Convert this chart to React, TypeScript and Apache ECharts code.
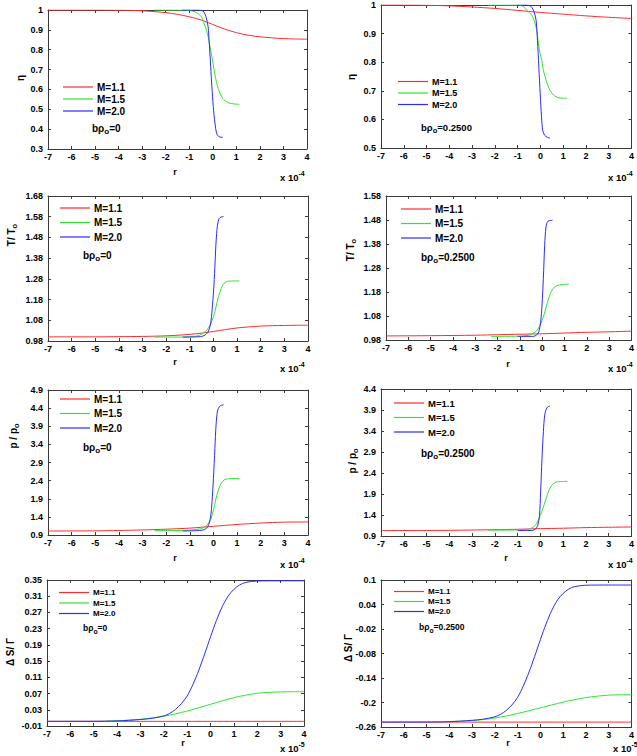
import React, { useEffect, useRef } from "react";
import * as echarts from "echarts";

// ---------- Data (x in units of 1e-4, bottom row 1e-5) ----------
const SERIES_NAMES = ["M=1.1", "M=1.5", "M=2.0"];
const X_TICK_MIN = -7;
const X_TICK_MAX = 4;

// Row 1 left: eta, b rho_o = 0
const ETA0_M11_X = [-7, -5, -4, -3.5, -3, -2.5, -2, -1.5, -1, -0.5, 0, 0.5, 1, 1.5, 2, 2.5, 3, 3.5, 4];
const ETA0_M11_Y = [1, 1, 0.999, 0.998, 0.996, 0.992, 0.987, 0.978, 0.966, 0.95, 0.927, 0.904, 0.886, 0.873, 0.865, 0.86, 0.856, 0.854, 0.853];
const ETA0_M15_X = [-2.5, -1.5, -1, -0.75, -0.5, -0.38, -0.23, -0.12, 0, 0.09, 0.23, 0.42, 0.66, 0.9, 1.13];
const ETA0_M15_Y = [1, 1, 0.998, 0.99, 0.968, 0.935, 0.882, 0.815, 0.74, 0.673, 0.605, 0.555, 0.533, 0.527, 0.525];
const ETA0_M20_X = [-1.3, -0.7, -0.47, -0.38, -0.29, -0.2, -0.15, -0.09, -0.04, 0.02, 0.09, 0.16, 0.26, 0.42];
const ETA0_M20_Y = [1, 1, 0.998, 0.99, 0.966, 0.916, 0.832, 0.715, 0.614, 0.513, 0.43, 0.379, 0.362, 0.359];

// Row 1 right: eta, b rho_o = 0.25
const ETA1_M11_X = [-7, -6, -5, -4, -3, -2, -1, 0, 1, 2, 3, 4];
const ETA1_M11_Y = [1, 1, 0.999, 0.997, 0.993, 0.988, 0.981, 0.974, 0.968, 0.962, 0.957, 0.953];
const ETA1_M15_X = [-2.3, -1.5, -1, -0.74, -0.6, -0.38, -0.28, -0.16, -0.09, -0.01, 0.06, 0.13, 0.25, 0.42, 0.64, 0.86, 1.18];
const ETA1_M15_Y = [1, 1, 1, 0.994, 0.982, 0.965, 0.947, 0.912, 0.866, 0.83, 0.807, 0.772, 0.737, 0.702, 0.681, 0.675, 0.674];
const ETA1_M20_X = [-1.03, -0.6, -0.45, -0.38, -0.28, -0.19, -0.13, -0.07, -0.01, 0.05, 0.1, 0.19, 0.31, 0.42];
const ETA1_M20_Y = [1, 1, 0.997, 0.992, 0.977, 0.947, 0.877, 0.784, 0.69, 0.609, 0.562, 0.544, 0.537, 0.535];

// Row 2 left: T/To, b rho_o = 0
const T0_M11_X = [-7, -5, -4, -3, -2, -1.5, -1, -0.5, 0, 0.5, 1, 1.5, 2, 2.5, 3, 3.5, 4];
const T0_M11_Y = [1.0, 1.0, 1.001, 1.002, 1.005, 1.008, 1.012, 1.018, 1.026, 1.035, 1.043, 1.048, 1.052, 1.054, 1.055, 1.056, 1.056];
const T0_M15_X = [-2.5, -1.5, -1, -0.7, -0.49, -0.35, -0.21, -0.11, 0, 0.11, 0.21, 0.33, 0.45, 0.64, 1.1];
const T0_M15_Y = [0.999, 0.999, 1.0, 1.004, 1.014, 1.025, 1.044, 1.065, 1.097, 1.145, 1.194, 1.234, 1.259, 1.269, 1.27];
const T0_M20_X = [-1.3, -0.56, -0.35, -0.21, -0.11, -0.04, 0.02, 0.07, 0.11, 0.17, 0.24, 0.33, 0.43];
const T0_M20_Y = [0.999, 1.001, 1.009, 1.028, 1.073, 1.153, 1.25, 1.362, 1.458, 1.539, 1.571, 1.579, 1.58];

// Row 2 right: T/To, b rho_o = 0.25
const T1_M11_X = [-7, -5, -3, -2, -1, 0, 1, 2, 3, 4];
const T1_M11_Y = [0.997, 0.998, 1.0, 1.002, 1.004, 1.006, 1.009, 1.012, 1.014, 1.017];
const T1_M15_X = [-2.3, -1, -0.55, -0.4, -0.25, -0.13, 0, 0.12, 0.22, 0.34, 0.49, 0.67, 0.9, 1.19];
const T1_M15_Y = [0.995, 0.996, 1.001, 1.008, 1.019, 1.035, 1.063, 1.098, 1.132, 1.167, 1.195, 1.207, 1.211, 1.213];
const T1_M20_X = [-1.1, -0.4, -0.25, -0.15, -0.07, -0.01, 0.05, 0.11, 0.17, 0.26, 0.46];
const T1_M20_Y = [0.995, 0.995, 1.001, 1.015, 1.056, 1.125, 1.236, 1.375, 1.451, 1.475, 1.479];

// Row 3 left: p/po, b rho_o = 0
const P0_M11_X = [-7, -5, -4, -3, -2, -1, 0, 1, 2, 3, 4];
const P0_M11_Y = [1.01, 1.015, 1.025, 1.04, 1.06, 1.09, 1.14, 1.19, 1.23, 1.255, 1.26];
const P0_M15_X = [-2.5, -1.5, -1, -0.56, -0.35, -0.21, -0.11, 0, 0.11, 0.21, 0.33, 0.45, 0.64, 1.1];
const P0_M15_Y = [1.02, 1.025, 1.035, 1.07, 1.13, 1.22, 1.34, 1.59, 1.91, 2.14, 2.33, 2.42, 2.45, 2.46];
const P0_M20_X = [-1.3, -0.49, -0.3, -0.2, -0.11, -0.06, 0, 0.06, 0.11, 0.17, 0.25, 0.34, 0.43];
const P0_M20_Y = [1.01, 1.03, 1.08, 1.19, 1.45, 1.82, 2.46, 3.29, 3.93, 4.32, 4.44, 4.48, 4.49];

// Row 3 right: p/po, b rho_o = 0.25
const P1_M11_X = [-7, -5, -4, -2, -1, 0, 1, 2, 3, 4];
const P1_M11_Y = [1.03, 1.032, 1.035, 1.05, 1.06, 1.075, 1.085, 1.1, 1.108, 1.115];
const P1_M15_X = [-2.3, -1, -0.6, -0.38, -0.23, -0.12, 0, 0.13, 0.25, 0.38, 0.54, 0.74, 1.18];
const P1_M15_Y = [1.04, 1.042, 1.05, 1.09, 1.15, 1.25, 1.39, 1.59, 1.79, 1.99, 2.13, 2.19, 2.2];
const P1_M20_X = [-1.0, -0.38, -0.23, -0.12, -0.04, 0.01, 0.07, 0.13, 0.19, 0.28, 0.42];
const P1_M20_Y = [1.03, 1.03, 1.06, 1.15, 1.39, 1.95, 2.75, 3.38, 3.78, 3.95, 4.0];

// Row 4 left: dS/Gamma, b rho_o = 0 (x in 1e-5)
const S0_M11_X = [-7, -3, 0, 4];
const S0_M11_Y = [0.0015, 0.0015, 0.0015, 0.0015];
const S0_M15_X = [-4.5, -4, -3.5, -3, -2.5, -2, -1.5, -1, -0.5, 0, 0.5, 1, 1.5, 2, 2.5, 3, 3.5, 4];
const S0_M15_Y = [0.002, 0.003, 0.0045, 0.0065, 0.0098, 0.014, 0.02, 0.027, 0.035, 0.0435, 0.052, 0.06, 0.066, 0.0707, 0.073, 0.074, 0.0745, 0.0745];
const S0_M20_X = [-7, -5, -4, -3, -2.5, -2, -1.75, -1.5, -1.25, -1, -0.75, -0.5, -0.25, 0, 0.25, 0.5, 0.75, 1, 1.25, 1.5, 2, 3, 4];
const S0_M20_Y = [0.0015, 0.0017, 0.0025, 0.006, 0.009, 0.015, 0.021, 0.031, 0.045, 0.064, 0.093, 0.128, 0.168, 0.21, 0.25, 0.284, 0.31, 0.327, 0.338, 0.344, 0.3475, 0.348, 0.348];

// Row 4 right: dS/Gamma, b rho_o = 0.25 (x in 1e-5)
const S1_M11_X = [-7, -3, 0, 4];
const S1_M11_Y = [-0.248, -0.248, -0.248, -0.248];
const S1_M15_X = [-4.2, -4, -3.5, -3, -2.5, -2, -1.5, -1, -0.5, 0, 0.5, 1, 1.5, 2, 2.5, 3, 3.5, 4];
const S1_M15_Y = [-0.247, -0.2465, -0.2457, -0.2445, -0.2417, -0.238, -0.233, -0.227, -0.22, -0.213, -0.206, -0.199, -0.193, -0.188, -0.1845, -0.182, -0.1812, -0.181];
const S1_M20_X = [-7, -5, -4, -3, -2.5, -2, -1.75, -1.5, -1.25, -1, -0.75, -0.5, -0.25, 0, 0.25, 0.5, 0.75, 1, 1.25, 1.5, 2, 3, 4];
const S1_M20_Y = [-0.248, -0.2478, -0.247, -0.2436, -0.2407, -0.2349, -0.2291, -0.2195, -0.2059, -0.1874, -0.1594, -0.1255, -0.0867, -0.046, -0.0073, 0.0256, 0.0509, 0.0672, 0.078, 0.0838, 0.0872, 0.0877, 0.0877];

// Y tick labels
const ETA0_TICKS = [0.3, 0.4, 0.5, 0.6, 0.7, 0.8, 0.9, 1];
const ETA1_TICKS = [0.5, 0.6, 0.7, 0.8, 0.9, 1];
const T0_TICKS = [0.98, 1.08, 1.18, 1.28, 1.38, 1.48, 1.58, 1.68];
const T1_TICKS = [0.98, 1.08, 1.18, 1.28, 1.38, 1.48, 1.58];
const P0_TICKS = [0.9, 1.4, 1.9, 2.4, 2.9, 3.4, 3.9, 4.4, 4.9];
const P1_TICKS = [0.9, 1.4, 1.9, 2.4, 2.9, 3.4, 3.9, 4.4];
const S0_TICKS = [-0.01, 0.03, 0.07, 0.11, 0.15, 0.19, 0.23, 0.27, 0.31, 0.35];
const S1_TICKS = [-0.26, -0.2, -0.14, -0.08, -0.02, 0.04, 0.1];

// ---------- Styling ----------
const COLORS = ["#ff2b2b", "#2ee62e", "#2b2bff"];
const FONT = "Liberation Sans, Arial, sans-serif";
const FRAME = "#3a3a3a";
const LEGEND_LINE_ICON = "path://M0,0H30V1.2H0Z";

type Panel = {
  grid: { left: number; top: number; width: number; height: number };
  ticks: number[];
  curves: [number[], number[]][];
  legend: { left: number; top: number; itemHeight: number; gap: number; fontSize: number };
  yLabel: { x: number; y: number; text: string };
  bLabel: { x: number; y: number; value: string; fontSize: number };
  rLabel?: { x: number; y: number };
  expLabel: { x: number; y: number; exp: string };
};

const PANELS: Panel[] = [
  {
    grid: { left: 48, top: 10, width: 259, height: 139 },
    ticks: ETA0_TICKS,
    curves: [[ETA0_M11_X, ETA0_M11_Y], [ETA0_M15_X, ETA0_M15_Y], [ETA0_M20_X, ETA0_M20_Y]],
    legend: { left: 63, top: 82, itemHeight: 10, gap: 2, fontSize: 10 },
    yLabel: { x: 20, y: 78, text: "{n|η}" },
    bLabel: { x: 92, y: 128, value: "0", fontSize: 10 },
    rLabel: { x: 175, y: 172 },
    expLabel: { x: 280, y: 177, exp: "-4" },
  },
  {
    grid: { left: 381, top: 5, width: 252, height: 143 },
    ticks: ETA1_TICKS,
    curves: [[ETA1_M11_X, ETA1_M11_Y], [ETA1_M15_X, ETA1_M15_Y], [ETA1_M20_X, ETA1_M20_Y]],
    legend: { left: 398, top: 77, itemHeight: 10, gap: 2.5, fontSize: 9 },
    yLabel: { x: 351, y: 77, text: "{n|η}" },
    bLabel: { x: 421, y: 127, value: "0.2500", fontSize: 9.5 },
    expLabel: { x: 608, y: 177, exp: "-4" },
  },
  {
    grid: { left: 48, top: 196, width: 260, height: 145 },
    ticks: T0_TICKS,
    curves: [[T0_M11_X, T0_M11_Y], [T0_M15_X, T0_M15_Y], [T0_M20_X, T0_M20_Y]],
    legend: { left: 60, top: 203, itemHeight: 10, gap: 4.5, fontSize: 10 },
    yLabel: { x: 11, y: 235, text: "{n|T/ T}{s|o}" },
    bLabel: { x: 83, y: 255, value: "0", fontSize: 10 },
    rLabel: { x: 175, y: 362 },
    expLabel: { x: 280, y: 368, exp: "-4" },
  },
  {
    grid: { left: 386, top: 196, width: 247, height: 144 },
    ticks: T1_TICKS,
    curves: [[T1_M11_X, T1_M11_Y], [T1_M15_X, T1_M15_Y], [T1_M20_X, T1_M20_Y]],
    legend: { left: 401, top: 204, itemHeight: 10, gap: 4.5, fontSize: 10 },
    yLabel: { x: 350, y: 250, text: "{n|T/ T}{s|o}" },
    bLabel: { x: 421, y: 257, value: "0.2500", fontSize: 10 },
    rLabel: { x: 508, y: 364 },
    expLabel: { x: 608, y: 368, exp: "-4" },
  },
  {
    grid: { left: 48, top: 390, width: 260, height: 145 },
    ticks: P0_TICKS,
    curves: [[P0_M11_X, P0_M11_Y], [P0_M15_X, P0_M15_Y], [P0_M20_X, P0_M20_Y]],
    legend: { left: 60, top: 394, itemHeight: 10, gap: 4.5, fontSize: 10 },
    yLabel: { x: 13, y: 436, text: "{n|p / p}{s|o}" },
    bLabel: { x: 83, y: 447, value: "0", fontSize: 10 },
    rLabel: { x: 175, y: 558 },
    expLabel: { x: 280, y: 564, exp: "-4" },
  },
  {
    grid: { left: 381, top: 389, width: 252, height: 147 },
    ticks: P1_TICKS,
    curves: [[P1_M11_X, P1_M11_Y], [P1_M15_X, P1_M15_Y], [P1_M20_X, P1_M20_Y]],
    legend: { left: 394, top: 398, itemHeight: 10, gap: 4.5, fontSize: 9.5 },
    yLabel: { x: 352, y: 461, text: "{n|p / p}{s|o}" },
    bLabel: { x: 421, y: 453, value: "0.2500", fontSize: 10 },
    rLabel: { x: 506, y: 558 },
    expLabel: { x: 608, y: 564, exp: "-4" },
  },
  {
    grid: { left: 47, top: 580, width: 257, height: 146 },
    ticks: S0_TICKS,
    curves: [[S0_M11_X, S0_M11_Y], [S0_M15_X, S0_M15_Y], [S0_M20_X, S0_M20_Y]],
    legend: { left: 59, top: 588.5, itemHeight: 9, gap: 2.5, fontSize: 8 },
    yLabel: { x: 10, y: 652, text: "{n|Δ S/ Γ}" },
    bLabel: { x: 83, y: 628, value: "0", fontSize: 8.5 },
    rLabel: { x: 183, y: 743 },
    expLabel: { x: 280, y: 748, exp: "-5" },
  },
  {
    grid: { left: 381, top: 580, width: 256, height: 147 },
    ticks: S1_TICKS,
    curves: [[S1_M11_X, S1_M11_Y], [S1_M15_X, S1_M15_Y], [S1_M20_X, S1_M20_Y]],
    legend: { left: 394, top: 587.5, itemHeight: 9, gap: 2, fontSize: 8 },
    yLabel: { x: 348, y: 648, text: "{n|Δ S/ Γ}" },
    bLabel: { x: 419, y: 627, value: "0.2500", fontSize: 8.5 },
    rLabel: { x: 508, y: 743 },
    expLabel: { x: 613, y: 748, exp: "-5" },
  },
];

const fmt = (v: number) => String(parseFloat(Number(v).toFixed(3)));

function buildOption() {
  const grid: any[] = [];
  const xAxis: any[] = [];
  const yAxis: any[] = [];
  const series: any[] = [];
  const legend: any[] = [];
  const graphic: any[] = [];

  const lineCommon = { show: true, onZero: false, lineStyle: { color: FRAME, width: 1 } };
  const tickCommon = { show: true, inside: true, length: 3, lineStyle: { color: FRAME, width: 1 } };
  const labelCommon = { color: "#000", fontSize: 9, fontWeight: "bold", fontFamily: FONT };

  PANELS.forEach((p, gi) => {
    grid.push({ ...p.grid, containLabel: false });
    const xBase = { type: "value", gridIndex: gi, min: X_TICK_MIN, max: X_TICK_MAX, interval: 1, splitLine: { show: false } };
    xAxis.push({ ...xBase, position: "bottom", axisLine: lineCommon, axisTick: tickCommon, axisLabel: { ...labelCommon, margin: 3, formatter: (v: number) => fmt(v) } });
    xAxis.push({ ...xBase, position: "top", axisLine: lineCommon, axisTick: tickCommon, axisLabel: { show: false } });
    const yMin = p.ticks[0];
    const yMax = p.ticks[p.ticks.length - 1];
    const yBase = { type: "value", gridIndex: gi, min: yMin, max: yMax, splitLine: { show: false } };
    yAxis.push({
      ...yBase,
      position: "left",
      axisLine: lineCommon,
      axisTick: { ...tickCommon, customValues: p.ticks },
      axisLabel: { ...labelCommon, margin: 5, customValues: p.ticks, formatter: (v: number) => fmt(v) },
    });
    yAxis.push({
      ...yBase,
      position: "right",
      axisLine: lineCommon,
      axisTick: { ...tickCommon, customValues: p.ticks },
      axisLabel: { show: false },
    });

    p.curves.forEach(([xs, ys], ci) => {
      series.push({
        type: "line",
        name: SERIES_NAMES[ci],
        xAxisIndex: gi * 2,
        yAxisIndex: gi * 2,
        data: xs.map((x, i) => [x, ys[i]]),
        symbol: "none",
        showSymbol: false,
        smooth: 0.3,
        silent: true,
        lineStyle: { color: COLORS[ci], width: 1 },
        itemStyle: { color: COLORS[ci] },
        z: 2 + ci,
      });
    });

    legend.push({
      left: p.legend.left,
      top: p.legend.top,
      orient: "vertical",
      padding: 0,
      itemWidth: 30,
      itemHeight: p.legend.itemHeight,
      itemGap: p.legend.gap,
      selectedMode: false,
      icon: LEGEND_LINE_ICON,
      symbolKeepAspect: true,
      textStyle: { color: "#000", fontSize: p.legend.fontSize, fontWeight: "bold", fontFamily: FONT, padding: [0, 0, 0, -1] },
      data: SERIES_NAMES.map((name, ci) => ({
        name,
        icon: LEGEND_LINE_ICON,
        itemStyle: { color: COLORS[ci], borderWidth: 0, opacity: 1 },
      })),
    });

    const fs = 10;
    graphic.push({
      type: "text",
      x: p.yLabel.x,
      y: p.yLabel.y,
      rotation: Math.PI / 2,
      silent: true,
      style: {
        text: p.yLabel.text,
        align: "center",
        verticalAlign: "middle",
        fill: "#000",
        rich: {
          n: { fontSize: fs, fontWeight: "bold", fontFamily: FONT, fill: "#000", lineHeight: 14, verticalAlign: "middle" },
          s: { fontSize: 7.5, fontWeight: "bold", fontFamily: FONT, fill: "#000", lineHeight: 7, verticalAlign: "bottom" },
        },
      },
    });
    const bf = p.bLabel.fontSize;
    graphic.push({
      type: "text",
      x: p.bLabel.x,
      y: p.bLabel.y,
      silent: true,
      style: {
        text: `{n|bρ}{s|o}{n|=${p.bLabel.value}}`,
        align: "left",
        verticalAlign: "middle",
        fill: "#000",
        rich: {
          n: { fontSize: bf, fontWeight: "bold", fontFamily: FONT, fill: "#000", lineHeight: 14, verticalAlign: "middle" },
          s: { fontSize: bf * 0.8, fontWeight: "bold", fontFamily: FONT, fill: "#000", lineHeight: 7, verticalAlign: "bottom" },
        },
      },
    });
    if (p.rLabel) {
      graphic.push({
        type: "text",
        x: p.rLabel.x,
        y: p.rLabel.y,
        silent: true,
        style: { text: "r", align: "center", verticalAlign: "middle", fill: "#000", fontSize: 9, fontWeight: "bold", fontFamily: FONT },
      });
    }
    graphic.push({
      type: "text",
      x: p.expLabel.x,
      y: p.expLabel.y,
      silent: true,
      style: {
        text: `{n|x 10}{e|${p.expLabel.exp}}`,
        align: "left",
        verticalAlign: "middle",
        fill: "#000",
        rich: {
          n: { fontSize: 9.5, fontWeight: "bold", fontFamily: FONT, fill: "#000", lineHeight: 14, verticalAlign: "middle" },
          e: { fontSize: 7, fontWeight: "bold", fontFamily: FONT, fill: "#000", lineHeight: 7, verticalAlign: "top" },
        },
      },
    });
  });

  return {
    animation: false,
    backgroundColor: "#fff",
    grid,
    xAxis,
    yAxis,
    series,
    legend,
    graphic,
  };
}

export default function App() {
  const ref = useRef<HTMLDivElement>(null);
  useEffect(() => {
    document.body.style.margin = "0";
    if (!ref.current) return;
    const chart = echarts.init(ref.current, undefined, { renderer: "svg" });
    chart.setOption(buildOption() as any);
    return () => chart.dispose();
  }, []);
  return <div ref={ref} style={{ position: "absolute", left: 0, top: 0, width: 637, height: 756, background: "#fff" }} />;
}
